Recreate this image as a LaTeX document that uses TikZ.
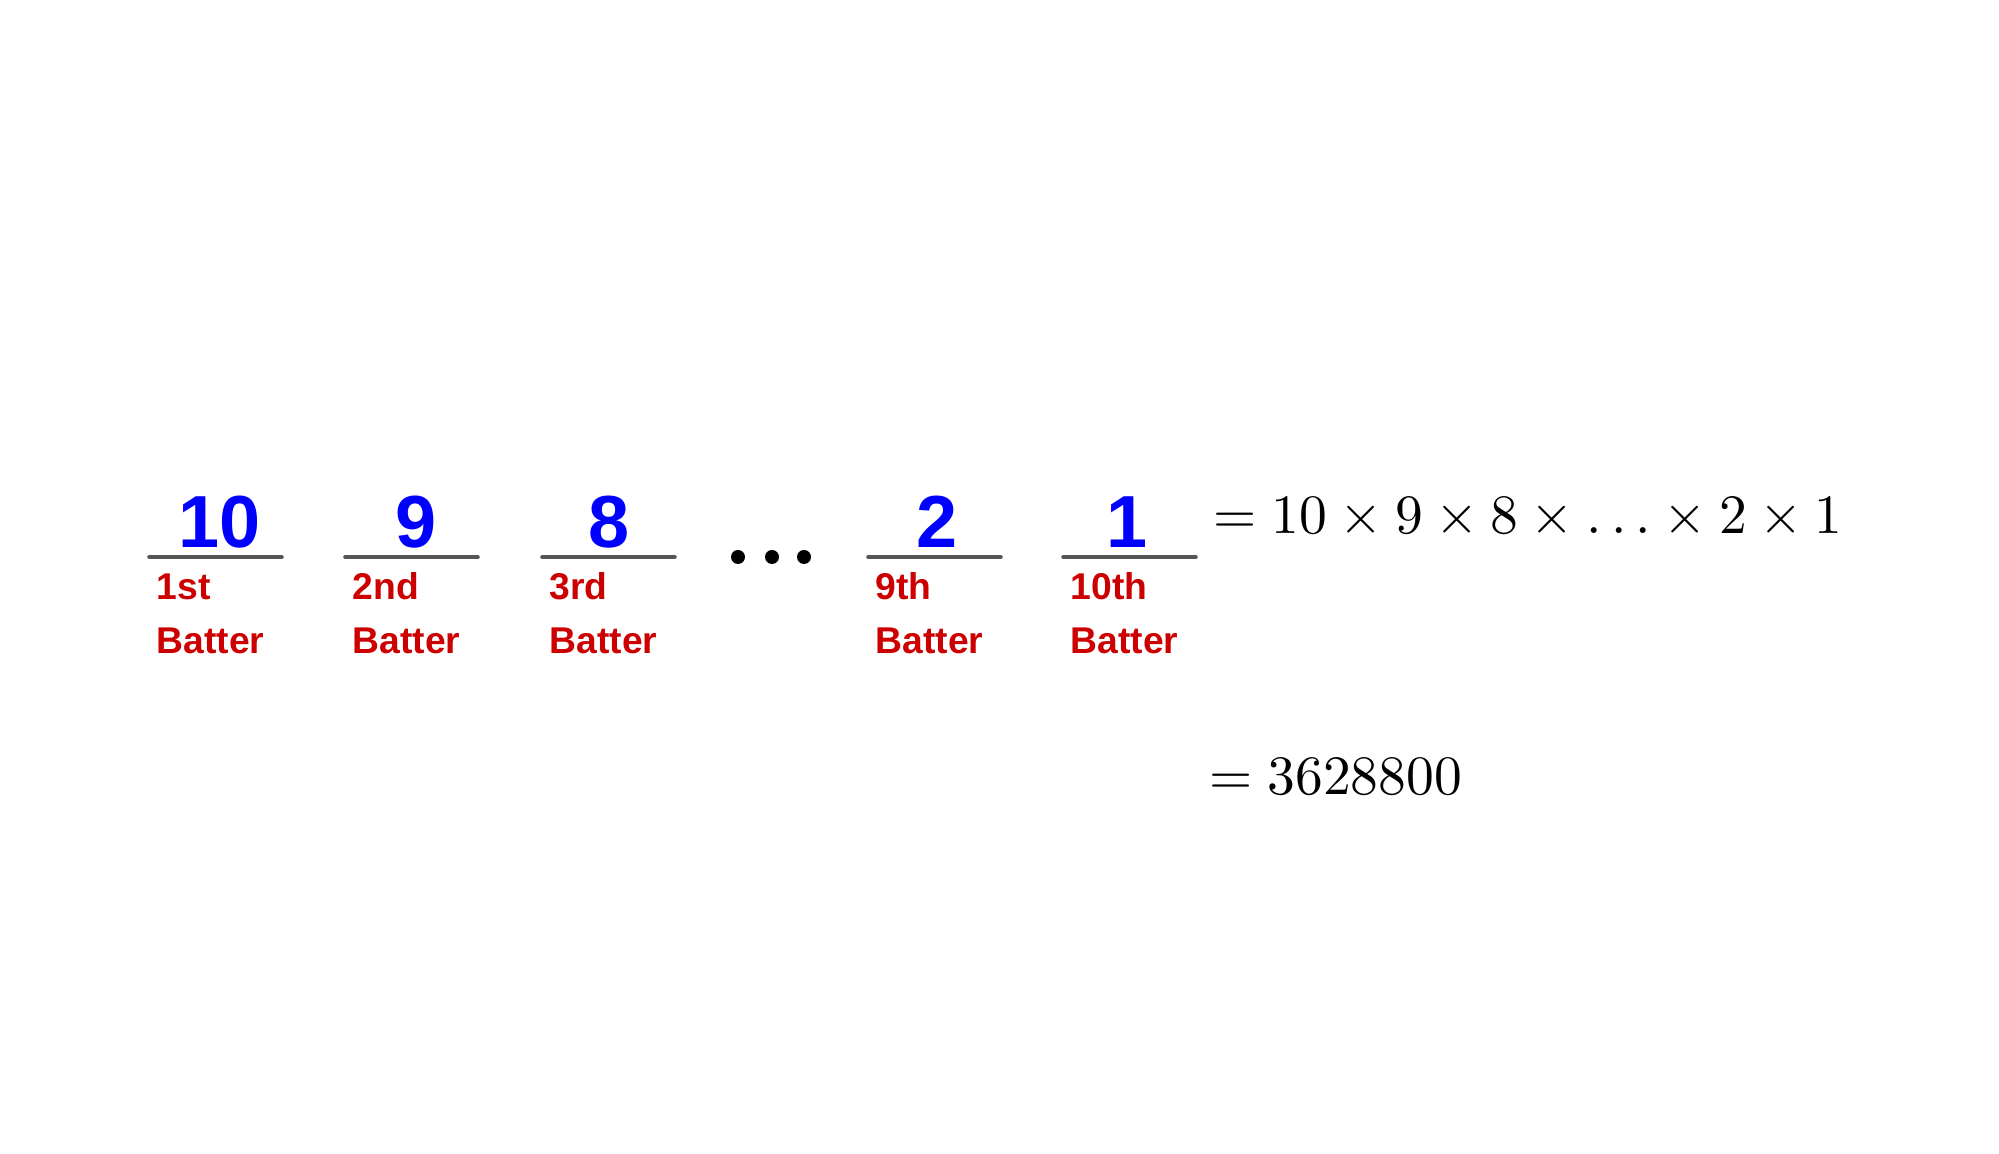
\documentclass[tikz,border=0pt]{standalone}
\usepackage{fontspec}
\setsansfont{Liberation Sans}
\definecolor{batred}{RGB}{204,0,0}
\definecolor{blankgray}{RGB}{85,85,85}
\begin{document}
\begin{tikzpicture}[
    choice/.style={font=\sffamily\bfseries\fontsize{21}{25}\selectfont, text=blue, anchor=base, inner sep=0pt},
    batter/.style={font=\sffamily\bfseries\fontsize{10.6}{13}\selectfont, text=batred, anchor=base west, inner sep=0pt},
    blank/.style={draw=blankgray, line width=1pt, line cap=round},
    result/.style={scale=1.58, transform shape, anchor=base west, inner sep=0pt},
  ]
    \useasboundingbox (0,0) rectangle (19.99,11.54);
    % blanks
    \coordinate (l1a) at (1.49,5.97);  \coordinate (l1b) at (2.82,5.97);
    \coordinate (l2a) at (3.45,5.97);  \coordinate (l2b) at (4.78,5.97);
    \coordinate (l3a) at (5.42,5.97);  \coordinate (l3b) at (6.75,5.97);
    \coordinate (l4a) at (8.68,5.97);  \coordinate (l4b) at (10.01,5.97);
    \coordinate (l5a) at (10.63,5.97); \coordinate (l5b) at (11.96,5.97);
    \draw [blank] (l1a)--(l1b);
    \draw [blank] (l2a)--(l2b);
    \draw [blank] (l3a)--(l3b);
    \draw [blank] (l4a)--(l4b);
    \draw [blank] (l5a)--(l5b);
    % choices
    \node [choice] (n1) at (2.195,6.06) {10};
    \node [choice] (n2) at (4.165,6.06) {9};
    \node [choice] (n3) at (6.095,6.06) {8};
    \node [choice] (n4) at (9.37,6.06) {2};
    \node [choice] (n5) at (11.27,6.06) {1};
    % batters
    \node [batter] (o1) at (1.56,5.54) {1st};
    \node [batter] (b1) at (1.56,5.00) {Batter};
    \node [batter] (o2) at (3.52,5.54) {2nd};
    \node [batter] (b2) at (3.52,5.00) {Batter};
    \node [batter] (o3) at (5.49,5.54) {3rd};
    \node [batter] (b3) at (5.49,5.00) {Batter};
    \node [batter] (o4) at (8.75,5.54) {9th};
    \node [batter] (b4) at (8.75,5.00) {Batter};
    \node [batter] (o5) at (10.70,5.54) {10th};
    \node [batter] (b5) at (10.70,5.00) {Batter};
    % dots
    \fill (7.38,5.97) circle (0.07);
    \fill (7.72,5.97) circle (0.07);
    \fill (8.04,5.97) circle (0.07);
    % product
    \node [result] (prod) at (12.12,6.20) {$= 10 \times 9 \times 8 \times \ldots \times 2 \times 1$};
    \node [result] (total) at (12.08,3.59) {$= 3628800$};
\end{tikzpicture}
\end{document}
